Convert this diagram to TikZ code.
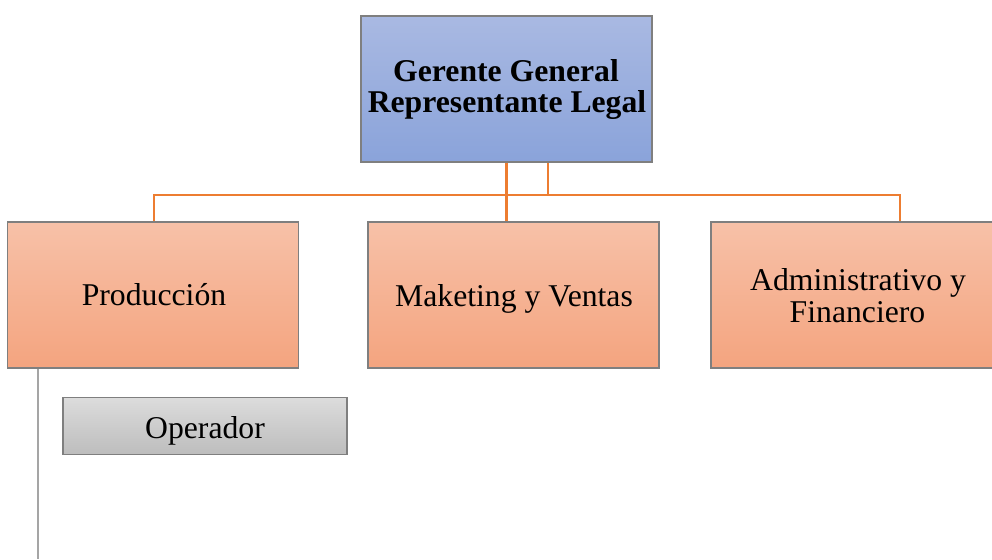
\documentclass[tikz,border=0pt]{standalone}
\usepackage{fontspec}
\setmainfont{Liberation Serif}
\definecolor{blueTop}{HTML}{A9B9E2}
\definecolor{blueBot}{HTML}{8AA3DA}
\definecolor{orTop}{HTML}{F7C1A8}
\definecolor{orBot}{HTML}{F4A47F}
\definecolor{grTop}{HTML}{DCDCDC}
\definecolor{grBot}{HTML}{BDBDBD}
\definecolor{borderGray}{HTML}{7F7F7F}
\definecolor{lineOr}{HTML}{ED7D31}
\definecolor{lineGr}{HTML}{A5A5A5}
\tikzset{
  basebox/.style={draw=borderGray, line width=1.2pt, inner sep=0pt},
  topbox/.style={basebox, top color=blueTop, bottom color=blueBot, minimum width=291pt, minimum height=146pt},
  deptbox/.style={basebox, top color=orTop, bottom color=orBot, minimum width=291pt, minimum height=146pt},
  subbox/.style={basebox, top color=grTop, bottom color=grBot, minimum width=284pt, minimum height=57pt},
  txt/.style={inner sep=0pt, anchor=base, font=\fontsize{31.7}{34}\selectfont},
  btxt/.style={txt, font=\fontsize{31.7}{34}\selectfont\bfseries},
  orline/.style={draw=lineOr, line width=2.8pt},
  grline/.style={draw=lineGr, line width=2.8pt}
}
\begin{document}
\begin{tikzpicture}[x=1pt,y=-1pt]
\clip (0,0) rectangle (992,559);
\fill[white] (0,0) rectangle (992,559);
\coordinate (j1) at (154,195);
\coordinate (j2) at (900,195);
\coordinate (j3) at (548,195);
\coordinate (gend) at (38,559);
\node[topbox] (gg) at (506.5,89) {};
\node[deptbox] (prod) at (153,295) {};
\node[deptbox] (mkt) at (513.5,295) {};
\node[deptbox] (adm) at (856.5,295) {};
\node[subbox] (op) at (205,426) {};
\draw[orline] (prod.north -| j1) -- (j1) -- (j2) -- (adm.north -| j2);
\draw[orline] (gg.south) -- (gg.south |- mkt.north);
\draw[orline] (gg.south -| j3) -- (j3);
\draw[grline] (prod.south -| gend) -- (gend);
\node[btxt] (ggt1) at (506,82) {Gerente General};
\node[btxt] (ggt2) at (507,113) {Representante Legal};
\node[txt] (prodt) at (154,305) {Producción};
\node[txt] (mktt) at (514,306) {Maketing y Ventas};
\node[txt] (admt1) at (858,290) {Administrativo y};
\node[txt] (admt2) at (857.5,322) {Financiero};
\node[txt] (opt) at (205,438) {Operador};
\end{tikzpicture}
\end{document}
